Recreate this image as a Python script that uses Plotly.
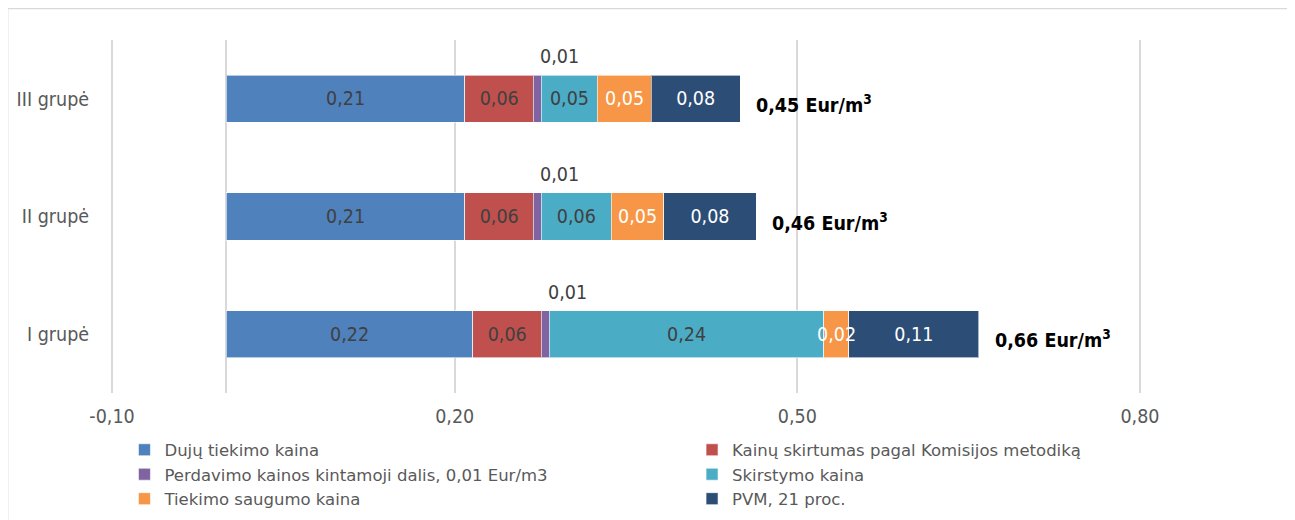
import plotly.graph_objects as go

# Data
groups = ["I grupė", "II grupė", "III grupė"]

series_names = [
    "Dujų tiekimo kaina",
    "Kainų skirtumas pagal Komisijos metodiką",
    "Perdavimo kainos kintamoji dalis, 0,01 Eur/m3",
    "Skirstymo kaina",
    "Tiekimo saugumo kaina",
    "PVM, 21 proc.",
]

duju_tiekimo = [0.216, 0.209, 0.209]
kainu_skirtumas = [0.060, 0.060, 0.060]
perdavimo = [0.007, 0.007, 0.007]
skirstymo = [0.240, 0.061, 0.049]
tiekimo_saugumo = [0.022, 0.046, 0.047]
pvm = [0.114, 0.081, 0.078]

x_ticks = [-0.10, 0.20, 0.50, 0.80]

colors = ["#4F81BD", "#C0504D", "#8064A2", "#4BACC6", "#F79646", "#2C4D75"]
label_colors = ["#404040", "#404040", "#404040", "#404040", "#FFFFFF", "#FFFFFF"]
# legend column of each series: left column / right column
legend_ids = ["legend", "legend2", "legend", "legend2", "legend", "legend2"]

FONT = "DejaVu Sans Condensed, DejaVu Sans, sans-serif"
LEGEND_FONT = "DejaVu Sans, sans-serif"


def fmt(v):
    return f"{v:.2f}".replace(".", ",")


series = [duju_tiekimo, kainu_skirtumas, perdavimo, skirstymo, tiekimo_saugumo, pvm]

fig = go.Figure()

for name, vals, col, lcol, leg in zip(series_names, series, colors, label_colors, legend_ids):
    # purple is too thin and orange labels overflow their segment: label them with annotations
    own_text = vals is not perdavimo and vals is not tiekimo_saugumo
    fig.add_trace(
        go.Bar(
            y=groups,
            x=vals,
            name=name,
            orientation="h",
            legend=leg,
            marker=dict(color=col, line=dict(color="rgba(255,255,255,0.6)", width=1)),
            width=0.4,
            text=[fmt(v) if own_text else "" for v in vals],
            textposition="inside",
            insidetextanchor="middle",
            textangle=0,
            constraintext="none",
            textfont=dict(family=FONT, size=19.5, color=lcol),
            hoverinfo="x+name",
        )
    )

# labels for the thin purple segment, shown above the bar
for i, g in enumerate(groups):
    end = duju_tiekimo[i] + kainu_skirtumas[i] + perdavimo[i]
    fig.add_annotation(
        x=end, y=g, text=fmt(perdavimo[i]),
        showarrow=False, xanchor="left", xshift=-3, yshift=42,
        font=dict(family=FONT, size=19.5, color="#404040"),
    )

# orange segment labels, drawn on top so they can overflow
for i, g in enumerate(groups):
    start = duju_tiekimo[i] + kainu_skirtumas[i] + perdavimo[i] + skirstymo[i]
    fig.add_annotation(
        x=start + tiekimo_saugumo[i] / 2, y=g, text=fmt(tiekimo_saugumo[i]),
        showarrow=False, xanchor="center",
        font=dict(family=FONT, size=19.5, color="#FFFFFF"),
    )

# totals to the right of each bar
for i, g in enumerate(groups):
    total = sum(s[i] for s in series)
    fig.add_annotation(
        x=total, y=g, text=f"<b>{fmt(total)} Eur/m<sup>3</sup></b>",
        showarrow=False, xanchor="left", xshift=14, yshift=-5,
        font=dict(family=FONT, size=19.5, color="#000000"),
    )

# chart area border
fig.add_shape(
    type="rect", xref="paper", yref="paper",
    x0=-0.0992, x1=1.144, y0=-0.42, y1=1.089,
    line=dict(color="#D9D9D9", width=1.5), layer="below",
)

legend_style = dict(
    orientation="v",
    yanchor="top",
    xanchor="left",
    font=dict(family=LEGEND_FONT, size=16.5, color="#595959"),
    traceorder="normal",
    itemclick=False,
    bgcolor="rgba(0,0,0,0)",
)

fig.update_layout(
    barmode="stack",
    width=1295,
    height=520,
    margin=dict(l=102, r=161, t=32, b=135, autoexpand=False),
    paper_bgcolor="white",
    plot_bgcolor="white",
    font=dict(family=FONT, size=19.5, color="#595959"),
    showlegend=True,
    legend=dict(x=0.014, y=-0.112, **legend_style),
    legend2=dict(x=0.564, y=-0.112, **legend_style),
    xaxis=dict(
        # small padding so the gridlines at -0,10 and 0,80 are still drawn
        range=[-0.1018, 0.8018],
        tickvals=x_ticks,
        ticktext=[fmt(v) for v in x_ticks],
        showgrid=True,
        gridcolor="#D9D9D9",
        gridwidth=1.5,
        zeroline=True,
        zerolinecolor="#D9D9D9",
        zerolinewidth=1.5,
        showline=False,
        ticks="outside",
        ticklen=6,
        tickcolor="rgba(0,0,0,0)",
        tickfont=dict(family=FONT, size=19.5, color="#595959"),
        fixedrange=True,
    ),
    yaxis=dict(
        categoryorder="array",
        categoryarray=groups,
        range=[-0.5, 2.5],
        showgrid=False,
        zeroline=False,
        showline=False,
        ticks="outside",
        ticklen=16,
        tickcolor="rgba(0,0,0,0)",
        tickfont=dict(family=FONT, size=19.5, color="#595959"),
        fixedrange=True,
    ),
)

fig.write_html("out.html")
